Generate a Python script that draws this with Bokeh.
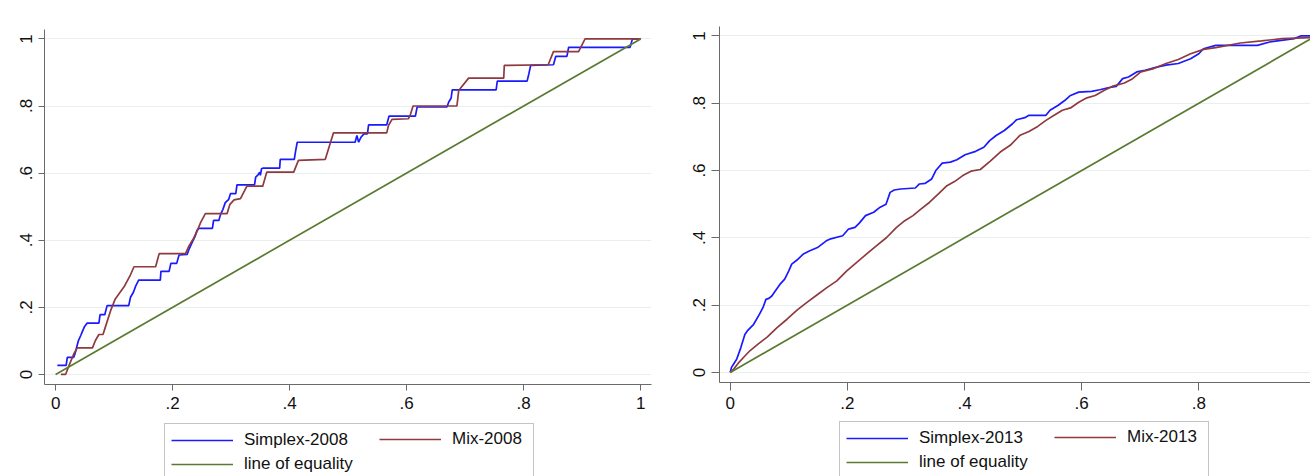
from bokeh.plotting import figure
from bokeh.models import Legend, LegendItem, FixedTicker, Range1d
from bokeh.layouts import row, column
from bokeh.embed import file_html
from bokeh.resources import INLINE

# ---------------- data ----------------
tick_values = [0, 0.2, 0.4, 0.6, 0.8, 1]
tick_labels = ["0", ".2", ".4", ".6", ".8", "1"]

series_names_2008 = ["Simplex-2008", "Mix-2008", "line of equality"]
series_names_2013 = ["Simplex-2013", "Mix-2013", "line of equality"]

equality_x = [0.0, 1.0]
equality_y = [0.0, 1.0]

simplex2008_x = [0.003, 0.018, 0.020, 0.031, 0.033, 0.036, 0.039, 0.043, 0.046, 0.049, 0.054, 0.074, 0.076,
                 0.084, 0.088, 0.125, 0.128, 0.133, 0.137, 0.142, 0.179, 0.180, 0.194, 0.197, 0.207, 0.211,
                 0.225, 0.228, 0.234, 0.238, 0.242, 0.245, 0.268, 0.270, 0.279, 0.282, 0.286, 0.290, 0.296,
                 0.299, 0.308, 0.310, 0.340, 0.342, 0.346, 0.349, 0.350, 0.352, 0.355, 0.383, 0.384, 0.408,
                 0.410, 0.413, 0.512, 0.515, 0.518, 0.522, 0.527, 0.533, 0.535, 0.566, 0.570, 0.615, 0.618,
                 0.669, 0.672, 0.676, 0.678, 0.753, 0.755, 0.806, 0.809, 0.812, 0.851, 0.855, 0.874, 0.877,
                 0.982, 0.986, 1.0]
simplex2008_y = [0.027, 0.027, 0.051, 0.051, 0.061, 0.081, 0.101, 0.116, 0.129, 0.141, 0.153, 0.153, 0.178,
                 0.178, 0.205, 0.205, 0.230, 0.245, 0.264, 0.281, 0.281, 0.307, 0.307, 0.331, 0.331, 0.356,
                 0.358, 0.373, 0.396, 0.410, 0.430, 0.435, 0.435, 0.459, 0.459, 0.477, 0.492, 0.512, 0.522,
                 0.539, 0.539, 0.565, 0.565, 0.588, 0.595, 0.603, 0.593, 0.613, 0.615, 0.615, 0.641, 0.641,
                 0.663, 0.692, 0.692, 0.712, 0.692, 0.707, 0.717, 0.717, 0.744, 0.744, 0.770, 0.770, 0.797,
                 0.797, 0.812, 0.823, 0.848, 0.848, 0.874, 0.874, 0.896, 0.921, 0.923, 0.948, 0.948, 0.975,
                 0.975, 1.0, 1.0]

mix2008_x = [0.009, 0.017, 0.023, 0.031, 0.037, 0.063, 0.068, 0.074, 0.081, 0.085, 0.094, 0.102, 0.117,
             0.128, 0.134, 0.171, 0.177, 0.222, 0.228, 0.236, 0.242, 0.248, 0.256, 0.293, 0.298, 0.305,
             0.316, 0.327, 0.354, 0.361, 0.407, 0.415, 0.461, 0.475, 0.566, 0.569, 0.575, 0.603, 0.606,
             0.611, 0.686, 0.689, 0.706, 0.766, 0.767, 0.842, 0.851, 0.894, 0.905, 1.0]
mix2008_y = [0.0, 0.0, 0.027, 0.061, 0.079, 0.079, 0.101, 0.119, 0.119, 0.141, 0.190, 0.225, 0.261,
             0.297, 0.321, 0.321, 0.360, 0.360, 0.383, 0.406, 0.428, 0.453, 0.479, 0.479, 0.507, 0.520,
             0.524, 0.561, 0.561, 0.603, 0.603, 0.638, 0.641, 0.720, 0.720, 0.742, 0.760, 0.762, 0.772,
             0.800, 0.800, 0.846, 0.883, 0.883, 0.921, 0.923, 0.962, 0.962, 1.0, 1.0]

simplex2013_x = [0.0, 0.002, 0.004, 0.011, 0.018, 0.025, 0.030, 0.040, 0.050, 0.056, 0.061, 0.066, 0.071,
                 0.079, 0.086, 0.093, 0.100, 0.105, 0.114, 0.125, 0.135, 0.149, 0.164, 0.170, 0.192, 0.202,
                 0.213, 0.220, 0.231, 0.245, 0.256, 0.266, 0.273, 0.280, 0.291, 0.316, 0.323, 0.333, 0.344,
                 0.351, 0.362, 0.376, 0.387, 0.401, 0.419, 0.433, 0.443, 0.454, 0.468, 0.482, 0.489, 0.503,
                 0.510, 0.539, 0.546, 0.560, 0.571, 0.581, 0.595, 0.617, 0.631, 0.645, 0.659, 0.670, 0.680,
                 0.694, 0.708, 0.730, 0.744, 0.765, 0.786, 0.800, 0.808, 0.829, 0.900, 0.921, 0.963, 0.974,
                 0.990]
simplex2013_y = [0.0, 0.014, 0.020, 0.039, 0.073, 0.113, 0.125, 0.143, 0.173, 0.193, 0.217, 0.220, 0.227,
                 0.247, 0.264, 0.277, 0.302, 0.322, 0.334, 0.352, 0.361, 0.371, 0.391, 0.396, 0.406, 0.426,
                 0.431, 0.443, 0.466, 0.476, 0.491, 0.500, 0.535, 0.542, 0.545, 0.548, 0.560, 0.562, 0.575,
                 0.600, 0.622, 0.625, 0.632, 0.647, 0.657, 0.669, 0.689, 0.704, 0.719, 0.739, 0.751, 0.757,
                 0.764, 0.764, 0.779, 0.794, 0.808, 0.823, 0.833, 0.835, 0.840, 0.846, 0.850, 0.873, 0.878,
                 0.893, 0.898, 0.908, 0.913, 0.918, 0.932, 0.947, 0.962, 0.972, 0.972, 0.982, 0.992, 1.0,
                 1.0]

mix2013_x = [0.0, 0.006, 0.015, 0.023, 0.034, 0.048, 0.063, 0.080, 0.097, 0.114, 0.131, 0.148, 0.165,
             0.182, 0.199, 0.216, 0.233, 0.250, 0.267, 0.284, 0.298, 0.312, 0.326, 0.340, 0.355, 0.370,
             0.383, 0.397, 0.411, 0.427, 0.444, 0.461, 0.478, 0.495, 0.510, 0.525, 0.539, 0.553, 0.567,
             0.581, 0.595, 0.609, 0.623, 0.638, 0.652, 0.673, 0.687, 0.701, 0.723, 0.744, 0.765, 0.786,
             0.808, 0.829, 0.871, 0.907, 0.942, 0.990]
mix2013_y = [0.0, 0.010, 0.030, 0.045, 0.065, 0.085, 0.105, 0.133, 0.158, 0.185, 0.208, 0.230, 0.252,
             0.272, 0.302, 0.327, 0.352, 0.377, 0.401, 0.431, 0.451, 0.466, 0.486, 0.505, 0.530, 0.555,
             0.567, 0.585, 0.598, 0.603, 0.628, 0.655, 0.675, 0.705, 0.716, 0.731, 0.749, 0.764, 0.779,
             0.786, 0.803, 0.816, 0.823, 0.838, 0.850, 0.860, 0.873, 0.893, 0.903, 0.918, 0.930, 0.947,
             0.960, 0.965, 0.979, 0.985, 0.992, 0.995]

# ---------------- style ----------------
FONT = "Liberation Sans"
BLUE = "#1a1aff"
RED = "#8e3a3e"
GREEN = "#5a7a30"
GRID = "#e8eff1"
AXIS = "#6a6a6a"
COLORS = [BLUE, RED, GREEN]
LW = 1.7


def make_plot(width, height, x_start, x_end, mb_left, mb_right, mb_top, mb_bottom, tick_len, xs, ys):
    p = figure(width=width, height=height,
               x_range=Range1d(x_start, x_end), y_range=Range1d(-0.030, 1.028),
               output_backend="svg", toolbar_location=None,
               min_border_left=mb_left, min_border_right=mb_right,
               min_border_top=mb_top, min_border_bottom=mb_bottom,
               background_fill_color="white", border_fill_color="white")
    p.outline_line_color = None
    p.xgrid.grid_line_color = None
    p.ygrid.grid_line_color = GRID
    p.ygrid.grid_line_width = 1.2

    overrides = {v: t for v, t in zip(tick_values, tick_labels)}
    for ax in (p.xaxis[0], p.yaxis[0]):
        ax.ticker = FixedTicker(ticks=tick_values)
        ax.major_label_overrides = overrides
        ax.minor_tick_line_color = None
        ax.major_tick_in = 0
        ax.major_tick_out = tick_len
        ax.axis_line_color = AXIS
        ax.major_tick_line_color = AXIS
        ax.major_label_text_font = FONT
        ax.major_label_text_font_size = "17px"
        ax.major_label_text_color = "#111111"
        ax.major_label_standoff = 6
    p.yaxis[0].major_label_orientation = "vertical"

    for x, y, c in zip(xs, ys, COLORS):
        p.line(x, y, line_color=c, line_width=LW)
    return p


def legend_style(**kw):
    base = dict(glyph_width=62, glyph_height=20, label_height=20,
                spacing=4, padding=6, margin=0, label_standoff=11,
                label_text_font=FONT, label_text_font_size="17px",
                label_text_color="#111111")
    base.update(kw)
    return base


def make_legend(width, height, mb_left, mb_right, names, xs, ys, top):
    # the series are drawn again outside this strip's visible range, only to
    # give the legend its line samples
    p = figure(width=width, height=height, x_range=Range1d(2, 3), y_range=Range1d(2, 3),
               output_backend="svg", toolbar_location=None,
               x_axis_location=None, y_axis_location=None,
               min_border_left=mb_left, min_border_right=mb_right,
               min_border_top=0, min_border_bottom=0,
               background_fill_color="white", border_fill_color="white")
    p.outline_line_color = None
    p.grid.visible = False
    rs = [p.line(x, y, line_color=c, line_width=LW) for x, y, c in zip(xs, ys, COLORS)]
    items = [LegendItem(label=n, renderers=[r]) for n, r in zip(names, rs)]

    # boxed legend: first column (series 1 and 3), wide enough to cover both columns
    h_a = 6 + 21 + 4 + 21 + 6
    leg_a = Legend(items=[items[0], items[2]], orientation="vertical",
                   location=(120, height - h_a - top),
                   **legend_style(label_width=283,
                                  border_line_color="#8a8a8a", border_line_width=1,
                                  background_fill_color="white", background_fill_alpha=1.0))
    # second column (series 2), same row as series 1
    h_b = 6 + 21 + 6
    leg_b = Legend(items=[items[1]], orientation="vertical",
                   location=(335, height - h_b - top + 7),
                   **legend_style(border_line_color=None, background_fill_alpha=0.0))
    p.add_layout(leg_a, "center")
    p.add_layout(leg_b, "center")
    return p


L_W, R_W = 668, 642
PLOT_H, LEG_H = 418, 58

left_plot = make_plot(L_W, PLOT_H, -0.019, 1.0186, 44, 17, 29, 34, 6,
                      [simplex2008_x, mix2008_x, equality_x],
                      [simplex2008_y, mix2008_y, equality_y])
left_leg = make_legend(L_W, LEG_H, 44, 17, series_names_2008,
                       [simplex2008_x, mix2008_x, equality_x],
                       [simplex2008_y, mix2008_y, equality_y], 5)

right_plot = make_plot(R_W, PLOT_H, -0.0183, 0.9907, 51, 0, 26, 36, 8,
                       [simplex2013_x, mix2013_x, equality_x],
                       [simplex2013_y, mix2013_y, equality_y])
right_leg = make_legend(R_W, LEG_H, 51, 0, series_names_2013,
                        [simplex2013_x, mix2013_x, equality_x],
                        [simplex2013_y, mix2013_y, equality_y], 3)

layout = row(column(left_plot, left_leg), column(right_plot, right_leg))
open("out.html", "w").write(file_html(layout, INLINE))
